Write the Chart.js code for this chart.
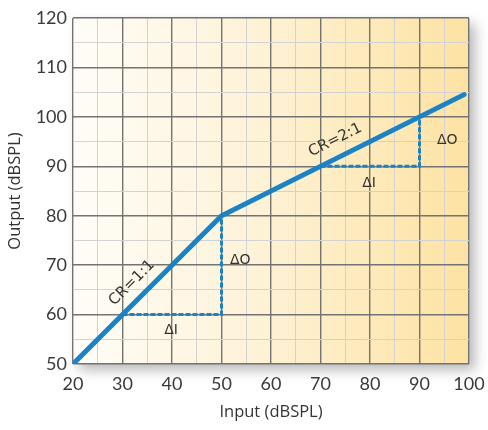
<!DOCTYPE html>
<html lang="en">
<head>
<meta charset="utf-8">
<title>Compression ratio</title>
<style>
  html, body { margin: 0; padding: 0; background: #fff; }
  #wrap { position: relative; width: 488px; height: 430px; }
</style>
</head>
<body>
<div id="wrap"><canvas id="myChart" width="488" height="430"></canvas></div>
<script src="https://cdn.jsdelivr.net/npm/chart.js"></script>
<script>
// input/output curve (dBSPL)
const inputLevels = [20, 50, 99];
const outputLevels = [50, 80, 104.5];

// delta I / delta O guides
const guideLowX = [30, 50, 50];
const guideLowY = [60, 60, 80];
const guideHighX = [70, 90, 90];
const guideHighY = [90, 90, 100];

const xTicks = [20, 30, 40, 50, 60, 70, 80, 90, 100];
const yTicks = [50, 60, 70, 80, 90, 100, 110, 120];

// text labels placed in data units
const noteText = ['CR=1:1', '\u0394I', '\u0394O', 'CR=2:1', '\u0394I', '\u0394O'];
const noteX = [31.9, 39.8, 53.8, 73.0, 79.8, 95.6];
const noteY = [66.4, 56.8, 71.0, 95.3, 86.5, 95.3];
const noteAngle = [-45, 0, 0, -26.6, 0, 0];

const blue = '#1b83c5';

function pts(xs, ys) {
  return xs.map((x, i) => ({ x: x, y: ys[i] }));
}

const paperPlugin = {
  id: 'paper',
  beforeDraw(chart) {
    const { ctx, chartArea: a } = chart;
    ctx.save();
    ctx.shadowColor = 'rgba(0,0,0,0.28)';
    ctx.shadowBlur = 12;
    ctx.shadowOffsetX = 6;
    ctx.shadowOffsetY = 6;
    const g = ctx.createLinearGradient(a.left, 0, a.right, 0);
    g.addColorStop(0, '#fffdf8');
    g.addColorStop(0.45, '#fef3d8');
    g.addColorStop(1, '#fde2a2');
    ctx.fillStyle = g;
    ctx.fillRect(a.left, a.top, a.right - a.left, a.bottom - a.top);
    ctx.restore();
  }
};

const notesPlugin = {
  id: 'notes',
  afterDatasetsDraw(chart) {
    const { ctx, scales } = chart;
    ctx.save();
    ctx.fillStyle = '#333';
    ctx.textAlign = 'center';
    ctx.textBaseline = 'middle';
    noteText.forEach((t, i) => {
      const px = scales.x.getPixelForValue(noteX[i]);
      const py = scales.y.getPixelForValue(noteY[i]);
      ctx.save();
      ctx.translate(px, py);
      ctx.rotate(noteAngle[i] * Math.PI / 180);
      ctx.font = (t.startsWith('CR') ? '15px' : '14px') + ' "DejaVu Sans", sans-serif';
      ctx.fillText(t, 0, 0);
      ctx.restore();
    });
    ctx.restore();
  }
};

const gridColor = (c) => (c.tick && c.tick.value % 10 === 0) ? '#737373' : '#d2d2d2';
const gridWidth = (c) => (c.tick && c.tick.value % 10 === 0) ? 1.4 : 1;

new Chart(document.getElementById('myChart'), {
  type: 'line',
  data: {
    datasets: [
      {
        data: pts(guideLowX, guideLowY),
        borderColor: blue, borderWidth: 3, borderDash: [5, 2],
        pointRadius: 0, fill: false, tension: 0
      },
      {
        data: pts(guideHighX, guideHighY),
        borderColor: blue, borderWidth: 3, borderDash: [5, 2],
        pointRadius: 0, fill: false, tension: 0
      },
      {
        data: pts(inputLevels, outputLevels),
        borderColor: blue, borderWidth: 5, borderCapStyle: 'round', borderJoinStyle: 'miter',
        pointRadius: 0, fill: false, tension: 0
      }
    ]
  },
  options: {
    responsive: false,
    animation: false,
    events: [],
    layout: { padding: { top: 18, right: 19, left: 0, bottom: 0 } },
    plugins: { legend: { display: false }, tooltip: { enabled: false } },
    scales: {
      x: {
        type: 'linear', min: 20, max: 100,
        afterBuildTicks: (s) => { s.ticks = []; for (let v = 20; v <= 100; v += 5) s.ticks.push({ value: v }); },
        afterFit: (s) => { s.height = 66; s.paddingLeft = 0; s.paddingRight = 0; },
        grid: { color: gridColor, lineWidth: gridWidth, drawTicks: false },
        border: { display: false },
        ticks: {
          padding: 9,
          maxRotation: 0, minRotation: 0, autoSkip: false,
          color: '#3a3a3a',
          font: { family: 'Lato, sans-serif', size: 18 },
          callback: (v) => xTicks.includes(v) ? String(v) : ''
        },
        title: {
          display: true, text: 'Input (dBSPL)', color: '#333',
          font: { family: '"Open Sans", sans-serif', size: 16.5 },
          padding: { top: 0, bottom: 8 }
        }
      },
      y: {
        type: 'linear', min: 50, max: 120,
        afterBuildTicks: (s) => { s.ticks = []; for (let v = 50; v <= 120; v += 5) s.ticks.push({ value: v }); },
        afterFit: (s) => { s.width = 73; s.paddingTop = 0; s.paddingBottom = 0; },
        grid: { color: gridColor, lineWidth: gridWidth, drawTicks: false },
        border: { display: false },
        ticks: {
          padding: 6, autoSkip: false,
          color: '#3a3a3a',
          font: { family: 'Lato, sans-serif', size: 18 },
          callback: (v) => yTicks.includes(v) ? String(v) : ''
        },
        title: {
          display: true, text: 'Output (dBSPL)', color: '#333',
          font: { family: '"Open Sans", sans-serif', size: 16.5 },
          padding: { top: 5, bottom: 0 }
        }
      }
    }
  },
  plugins: [paperPlugin, notesPlugin]
});
</script>
</body>
</html>
